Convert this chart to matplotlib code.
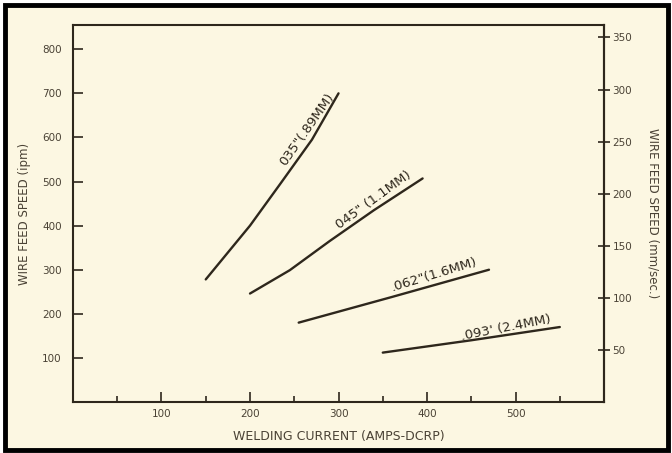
import numpy as np
import matplotlib.pyplot as plt
from matplotlib.patches import Rectangle

# welding current (A) vs wire feed speed (ipm)
amps_035 = [150, 200, 235, 270, 300]
ipm_035 = [278, 400, 497, 595, 700]
amps_045 = [200, 245, 290, 340, 395]
ipm_045 = [246, 299, 365, 435, 507]
amps_062 = [255, 360, 470]
ipm_062 = [180, 238, 300]
amps_093 = [350, 450, 550]
ipm_093 = [112, 140, 170]

labels = ['035"(.89MM)', '045" (1.1MM)', '.062"(1.6MM)', ".093' (2.4MM)"]

x_major = [100, 200, 300, 400, 500]
x_minor = [50, 150, 250, 350, 450, 550]
y_left = [100, 200, 300, 400, 500, 600, 700, 800]
y_right = [50, 100, 150, 200, 250, 300, 350]

bg = '#fcf7e2'
ink = '#2e271c'
txt = '#4a4235'

fig = plt.figure(figsize=(6.72, 4.53), dpi=100, facecolor='white')
fig.patches.append(Rectangle((0.007, 0.006), 0.987, 0.983, transform=fig.transFigure,
                             facecolor=bg, edgecolor='none', zorder=-10))
fig.patches.append(Rectangle((0.007, 0.006), 0.987, 0.983, transform=fig.transFigure,
                             fill=False, edgecolor='black', linewidth=3.5, zorder=10))
ax = fig.add_axes([0.1086, 0.1126, 0.7903, 0.8322])
ax.set_facecolor(bg)

curves = [(amps_035, ipm_035), (amps_045, ipm_045), (amps_062, ipm_062), (amps_093, ipm_093)]
for xs, ys in curves:
    ax.plot(xs, ys, color=ink, linewidth=1.7, solid_capstyle='round',
            solid_joinstyle='round')

# labels written along each curve
pos = [(264, 618, 55), (340, 458, 36), (408, 289, 17), (489, 167, 11)]
for lab, (lx, ly, rot) in zip(labels, pos):
    ax.text(lx, ly, lab, rotation=rot, ha='center', va='center', fontsize=9.5,
            color=ink, family='Liberation Sans Narrow')

ax.set_xlim(0, 600)
ax.set_ylim(0, 855)
ax.set_xticks(x_major)
ax.set_xticks(x_minor, minor=True)
ax.set_yticks(y_left)
for s in ax.spines.values():
    s.set_color(ink)
    s.set_linewidth(1.5)

ax.tick_params(axis='x', which='major', direction='in', length=7, width=1.2,
               colors=ink, labelcolor=txt, labelsize=7.5, pad=5)
ax.tick_params(axis='x', which='minor', direction='in', length=4, width=1.2, colors=ink)
ax.tick_params(axis='y', direction='in', length=7, width=1.2,
               colors=ink, labelcolor=txt, labelsize=7.5, pad=8)

conv = 25.4 / 60.0
sec = ax.secondary_yaxis('right', functions=(lambda v: v * conv, lambda v: v / conv))
sec.set_yticks(y_right)
sec.spines['right'].set_color(ink)
sec.spines['right'].set_linewidth(1.5)
sec.tick_params(direction='inout', length=8, width=1.2, colors=ink,
                labelcolor=txt, labelsize=7.5, pad=2)

ax.set_xlabel('WELDING CURRENT (AMPS-DCRP)', fontsize=9, color=txt, labelpad=8)
ax.set_ylabel('WIRE FEED SPEED (ipm)', fontsize=8.5, color=txt, labelpad=8)
sec.set_ylabel('WIRE FEED SPEED (mm/sec.)', fontsize=8.5, color=txt,
               rotation=-90, labelpad=20)

fig.savefig('out.png', dpi=100, facecolor='white')
